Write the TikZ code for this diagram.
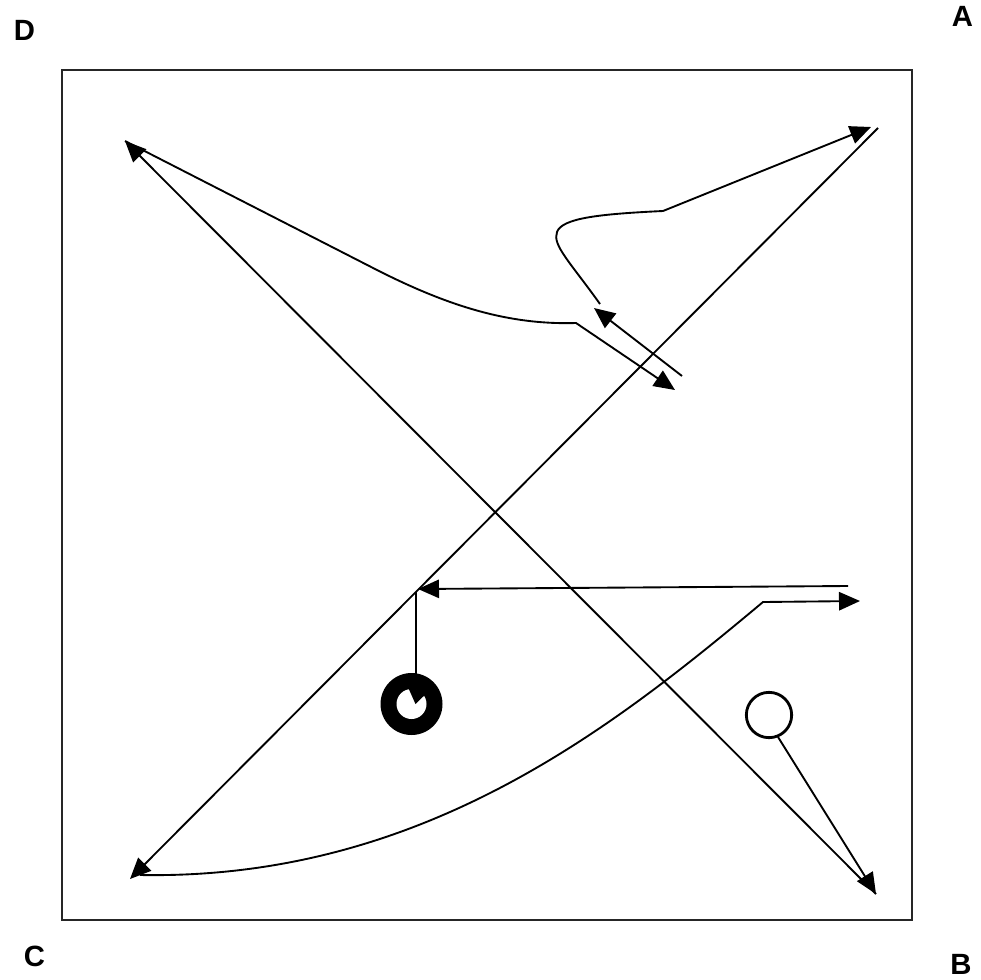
\documentclass[tikz,border=0pt]{standalone}
\usepackage{fontspec}
\setmainfont{Liberation Sans}
\usetikzlibrary{arrows.meta}
\tikzset{
  conn/.style={line width=1.6pt, line join=miter},
  tipend/.style={-{Triangle[length=0.63cm,width=0.55cm]}},
  tipstart/.style={{Triangle[length=0.63cm,width=0.55cm]}-},
  lbl/.style={font=\fontsize{25}{30}\selectfont\bfseries, inner sep=0pt},
  frame/.style={line width=1.5pt, draw=black!85}
}
\begin{document}
\begin{tikzpicture}[x=0.03cm,y=-0.03cm]
\useasboundingbox (0,0) rectangle (981,979);
\draw[frame] (62,70) rectangle (912,920);
% labels
\node[lbl] (D) at (24.5,30) {D};
\node[lbl] (A) at (962.5,16) {A};
\node[lbl] (C) at (34.5,956) {C};
\node[lbl] (B) at (961,964) {B};
% coordinates
\coordinate (a1) at (878,128);
\coordinate (c1) at (130,879);
\coordinate (d1) at (125,141);
\coordinate (b1) at (876,894);
\coordinate (k3) at (576,323);
\coordinate (t3) at (675,390);
\coordinate (s4) at (600,304);
\coordinate (k4) at (663,211);
\coordinate (t4) at (871,127);
\coordinate (s5) at (682,376);
\coordinate (t5) at (594,308);
\coordinate (s6) at (848,586);
\coordinate (t6) at (418,589);
\coordinate (v1) at (416,592);
\coordinate (ringc) at (411.5,704);
\coordinate (v2) at (416,674);
\coordinate (s7) at (140,875);
\coordinate (k7) at (763,602);
\coordinate (t7) at (860,601);
\coordinate (circ) at (769,715);
\coordinate (cb) at (778,737);
% diagonals
\draw[conn, tipend] (a1) -- (c1);
\draw[conn, tipstart] (d1) -- (b1);
% curve from D-arrow to middle arrow
\draw[conn, tipend] (d1) -- (377,270) .. controls (450,307) and (510,325) .. (k3) -- (t3);
% curl to A arrow
\draw[conn, tipend] (s4) .. controls (570,262) and (552,245) .. (557,232)
   .. controls (562,218) and (600,214) .. (k4) -- (t4);
% short arrow up-left
\draw[conn, tipend] (s5) -- (t5);
% horizontal arrow to diagonal
\draw[conn, tipend] (s6) -- (t6);
% stem to ring
\draw[conn] (v1) -- (v2);
% ring
\fill (ringc) circle[radius=0.93cm];
\fill[white] (ringc) circle[radius=0.45cm];
\fill (415.5,704) -- (408.2,687.6) -- (428.4,691.5) -- cycle;
% bottom curve
\draw[conn, tipend] (s7) .. controls (420,880) and (610,730) .. (k7) -- (t7);
% small circle
\draw[line width=2.4pt] (circ) circle[radius=0.68cm];
\draw[conn, tipend] (cb) -- (b1);
\end{tikzpicture}
\end{document}
